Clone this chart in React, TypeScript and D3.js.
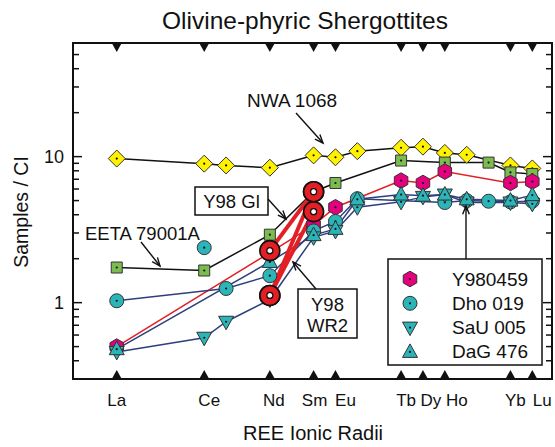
import React from "react";
import * as d3 from "d3";

// REE in order of decreasing ionic radius (Pr, Gd, Er, Tm plotted but not labelled)
const elements = ["La", "Ce", "Pr", "Nd", "Sm", "Eu", "Gd", "Tb", "Dy", "Ho", "Er", "Tm", "Yb", "Lu"];
const ionicRadius = [1.16, 1.12, 1.11, 1.09, 1.07, 1.06, 1.05, 1.03, 1.02, 1.01, 1.0, 0.99, 0.98, 0.97];
const labelledElements = ["La", "Ce", "Nd", "Sm", "Eu", "Tb", "Dy", "Ho", "Yb", "Lu"];
const yTickLabels = [1, 10];

// sample / CI, null = not plotted
const nwa1068 = [9.7, 8.95, 8.7, 8.4, 10.2, 9.9, 10.9, 11.5, 11.7, 10.6, 10.3, null, 8.7, 8.3];
const eeta79001A = [1.74, 1.66, null, 2.92, 5.75, 6.6, null, 9.4, null, 9.1, null, 9.1, 7.8, 7.6];
const y980459 = [0.5, null, null, 2.2, 3.4, 4.5, null, 6.85, 6.6, 7.9, null, null, 6.6, 6.75];
const dho019 = [1.03, 2.38, 1.25, 1.53, 3.1, 3.6, 5.15, null, null, 4.85, 5.0, 4.95, 4.9, 4.95];
const sau005 = [0.46, 0.575, 0.74, 1.05, 2.8, 3.1, 4.5, 4.9, 5.3, 5.5, 4.85, null, 4.85, 4.75];
const dag476 = [0.48, null, null, 1.9, 2.9, 3.2, 5.1, 5.5, 5.4, 5.5, 5.1, null, 5.0, 5.45];

// Y98 glass and whole rock (Nd, Sm only)
const y98Elements = ["Nd", "Sm"];
const y98Gl = [2.27, 5.75];
const y98WR2 = [1.12, 4.2];
const y98WR2b = [1.12, 5.75];

const W = 555, H = 447;
const left = 73, right = 552, top = 43, bottom = 379;

const x = d3.scaleLinear().domain([1.18, 0.961]).range([left, right]);
const y = d3.scaleLog().domain([0.3, 60]).range([bottom, top]);
const rOf = (el: string) => ionicRadius[elements.indexOf(el)];

// small horizontal nudges of the element names (px), as in the original figure
const labelNudge = [0, 5, 4, 1, 10, 5, 8, 12, 5, 10];

const RED = "#e31e24", BLUE = "#2e3f7c", CYAN = "#2bb5b9", MAG = "#e5007d", YEL = "#fff200", GRN = "#7cbb4f";
const FONT = "Liberation Sans, Arial, Helvetica, sans-serif";

type Shape = "diamond" | "square" | "hex" | "circle" | "tdown" | "tup";

const series = [
  { name: "NWA 1068", values: nwa1068, shape: "diamond" as Shape, fill: YEL, line: "#111", skip: [] as string[] },
  { name: "EETA 79001A", values: eeta79001A, shape: "square" as Shape, fill: GRN, line: "#111", skip: [] },
  { name: "Y980459", values: y980459, shape: "hex" as Shape, fill: MAG, line: RED, skip: [] },
  { name: "Dho 019", values: dho019, shape: "circle" as Shape, fill: CYAN, line: BLUE, skip: ["Ce"] },
  { name: "SaU 005", values: sau005, shape: "tdown" as Shape, fill: CYAN, line: BLUE, skip: [] },
  { name: "DaG 476", values: dag476, shape: "tup" as Shape, fill: CYAN, line: BLUE, skip: [] },
];
const legendSeries = series.slice(2);
const y98Series = [y98WR2b, y98WR2, y98Gl];

function shapePath(shape: Shape): string {
  switch (shape) {
    case "diamond": return "M0,-8.5L8.5,0L0,8.5L-8.5,0Z";
    case "square": return "M-5.5,-5.5H5.5V5.5H-5.5Z";
    case "hex": {
      const pts = d3.range(6).map(i => {
        const a = Math.PI / 6 + (i * Math.PI) / 3;
        return [7.8 * Math.cos(a), 7.8 * Math.sin(a)];
      });
      return "M" + pts.map(p => p.join(",")).join("L") + "Z";
    }
    case "circle": return d3.symbol(d3.symbolCircle, Math.PI * 7 * 7)()!;
    case "tup": return "M0,-8L7.5,5.5L-7.5,5.5Z";
    case "tdown": return "M0,8L7.5,-5.5L-7.5,-5.5Z";
  }
}

function Marker({ shape, fill, cx, cy }: { shape: Shape; fill: string; cx: number; cy: number }) {
  return (
    <g transform={`translate(${cx},${cy})`}>
      <path d={shapePath(shape)} fill={fill} stroke="#333" strokeWidth={1} />
      <circle r={1.1} fill="#111" />
    </g>
  );
}

function Arrow({ x1, y1, x2, y2 }: { x1: number; y1: number; x2: number; y2: number }) {
  const a = Math.atan2(y2 - y1, x2 - x1);
  const L = 9, s = 0.38;
  const p1 = [x2 - L * Math.cos(a - s), y2 - L * Math.sin(a - s)];
  const p2 = [x2 - L * Math.cos(a + s), y2 - L * Math.sin(a + s)];
  return (
    <g stroke="#111" strokeWidth={1.4} fill="none">
      <line x1={x1} y1={y1} x2={x2} y2={y2} />
      <path d={`M${p1[0]},${p1[1]}L${x2},${y2}L${p2[0]},${p2[1]}`} />
    </g>
  );
}

export default function App() {
  const line = d3.line<[number, number]>().x(d => d[0]).y(d => d[1]);

  const pointsOf = (s: typeof series[number], forLine: boolean) =>
    elements
      .map((el, i) => ({ el, v: s.values[i] }))
      .filter(d => d.v != null && !(forLine && s.skip.includes(d.el)))
      .map(d => [x(rOf(d.el)), y(d.v as number)] as [number, number]);

  const minorTicks: number[] = [];
  [0.1, 1, 10].forEach(dec => d3.range(1, 10).forEach(k => {
    const v = dec * k;
    if (v >= 0.3 - 1e-9 && v <= 60 + 1e-9) minorTicks.push(v);
  }));

  return (
    <svg width={W} height={H} style={{ position: "absolute", left: 0, top: 0, background: "#fff" }} fontFamily={FONT}>
      <text x={305} y={29} fontSize={24.5} textAnchor="middle" fill="#111">Olivine-phyric Shergottites</text>

      {/* y ticks, both sides, inward */}
      {minorTicks.map(v => {
        const major = yTickLabels.includes(Math.round(v * 1000) / 1000);
        const len = major ? 9 : 6;
        return (
          <g key={v} stroke="#111" strokeWidth={1.5}>
            <line x1={left} x2={left + len} y1={y(v)} y2={y(v)} />
            <line x1={right} x2={right - len} y1={y(v)} y2={y(v)} />
          </g>
        );
      })}
      {yTickLabels.map(v => (
        <text key={v} x={64} y={y(v) + 6.5} fontSize={18} textAnchor="end" fill="#111">{v}</text>
      ))}

      {/* element markers on top and bottom axes */}
      {labelledElements.map((el, i) => {
        const cx = x(rOf(el));
        return (
          <g key={el} fill="#111">
            <path d={`M${cx - 5},${top}L${cx + 5},${top}L${cx},${top + 9}Z`} />
            <path d={`M${cx - 5},${bottom}L${cx + 5},${bottom}L${cx},${bottom - 9}Z`} />
            <text x={cx + labelNudge[i]} y={406} fontSize={17} textAnchor="middle">{el}</text>
          </g>
        );
      })}

      {/* series lines */}
      {series.map(s => (
        <path key={s.name} d={line(pointsOf(s, true)) || ""} fill="none" stroke={s.line} strokeWidth={1.5} />
      ))}
      {y98Series.map((vals, k) => (
        <path key={k} d={line(vals.map((v, i) => [x(rOf(y98Elements[i])), y(v)] as [number, number])) || ""}
          fill="none" stroke={RED} strokeWidth={4} />
      ))}

      {/* markers */}
      {series.map(s => pointsOf(s, false).map((p, i) => (
        <Marker key={s.name + i} shape={s.shape} fill={s.fill} cx={p[0]} cy={p[1]} />
      )))}
      {y98Series.map((vals, k) => vals.map((v, i) => (
        <g key={`${k}-${i}`} transform={`translate(${x(rOf(y98Elements[i]))},${y(v)})`}>
          <circle r={10} fill={RED} stroke="#111" strokeWidth={1.6} />
          <circle r={3} fill="#fff" stroke="#111" strokeWidth={1.3} />
        </g>
      )))}

      {/* frame */}
      <rect x={left} y={top} width={right - left} height={bottom - top} fill="none" stroke="#111" strokeWidth={2} />

      {/* annotations */}
      <text x={247} y={107} fontSize={19} fill="#111">NWA 1068</text>
      <Arrow x1={296} y1={113} x2={323} y2={143} />

      <text x={85} y={240} fontSize={18.5} fill="#111">EETA 79001A</text>
      <Arrow x1={141} y1={242} x2={160} y2={266} />

      <rect x={195} y={187} width={73} height={28} fill="#fff" stroke="#111" strokeWidth={1.5} />
      <text x={231.5} y={208} fontSize={18.5} textAnchor="middle" fill="#111">Y98 Gl</text>
      <Arrow x1={268} y1={199} x2={286} y2={219} />

      <rect x={298} y={289} width={59} height={49} fill="#fff" stroke="#111" strokeWidth={1.5} />
      <text x={327.5} y={311} fontSize={18.5} textAnchor="middle" fill="#111">Y98</text>
      <text x={327.5} y={332} fontSize={18.5} textAnchor="middle" fill="#111">WR2</text>
      <Arrow x1={316} y1={289} x2={293} y2={262} />

      {/* legend */}
      <Arrow x1={466} y1={259} x2={466} y2={206} />
      <rect x={388} y={259} width={154} height={106} fill="#fff" stroke="#111" strokeWidth={1.5} />
      {legendSeries.map((s, i) => (
        <g key={s.name}>
          <Marker shape={s.shape} fill={s.fill} cx={410} cy={279 + i * 24.3} />
          <text x={452} y={279 + i * 24.3 + 6.5} fontSize={19} fill="#111">{s.name}</text>
        </g>
      ))}

      <text x={313} y={440} fontSize={20} textAnchor="middle" fill="#111">REE Ionic Radii</text>
      <text transform={`translate(28,212) rotate(-90)`} fontSize={19.5} textAnchor="middle" fill="#111">Samples / CI</text>
    </svg>
  );
}
